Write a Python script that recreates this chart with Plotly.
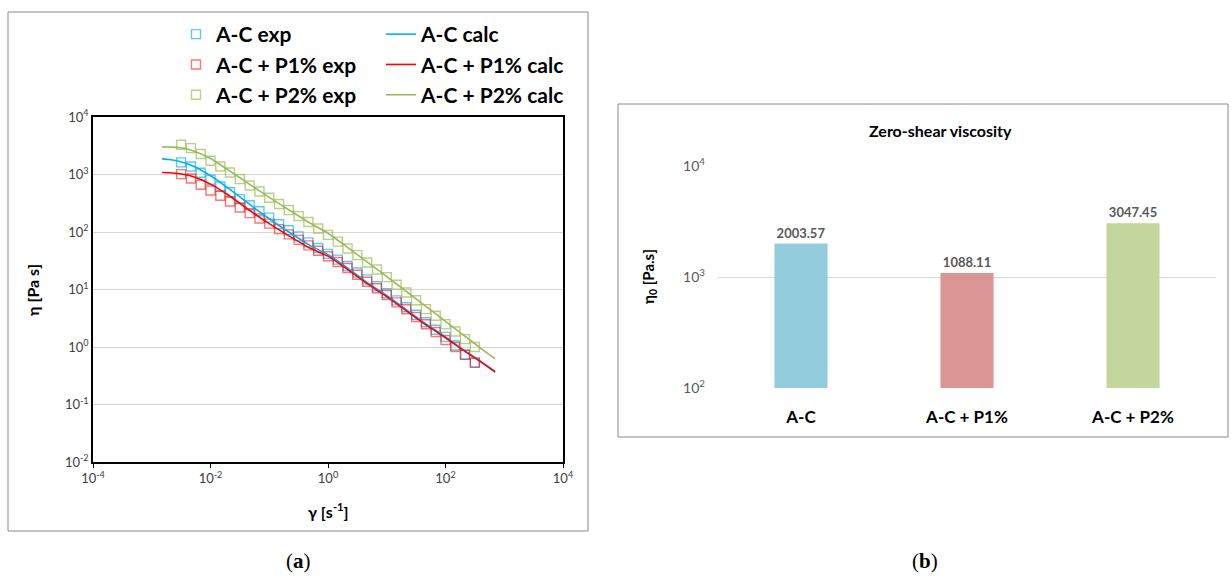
import plotly.graph_objects as go

# ---------------- data ----------------
SHEAR_EXP = [0.00316, 0.00464, 0.00681, 0.0100, 0.0147, 0.0215, 0.0316, 0.0464, 0.0681, 0.100,
             0.147, 0.215, 0.316, 0.464, 0.681, 1.00, 1.47, 2.15, 3.16, 4.64, 6.81, 10.0,
             14.7, 21.5, 31.6, 46.4, 68.1, 100, 147, 215, 316]
AC_EXP = [1622, 1380, 1072, 809, 617, 490, 373, 292, 229, 178, 136, 107, 84, 66, 52.7, 41.7,
          33.1, 25.7, 19.7, 15.0, 11.4, 8.6, 6.46, 4.9, 3.63, 2.69, 2.0, 1.50, 1.06, 0.74, 0.54]
P1_EXP = [1016, 851, 662, 527, 427, 339, 267, 213, 172, 140, 112, 91, 73, 58.6, 47.3, 37.8,
          30.1, 23.6, 18.0, 13.6, 10.5, 8.0, 5.96, 4.53, 3.33, 2.48, 1.82, 1.32, 1.0, 0.73, 0.53]
P2_EXP = [3290, 2880, 2270, 1730, 1380, 1085, 832, 645, 506, 394, 306, 240, 189, 149, 115, 89,
          68, 51.6, 39.6, 29.5, 22.3, 16.4, 12.1, 8.87, 6.49, 4.56, 3.49, 2.50, 1.86, 1.37, 1.0]

SHEAR_CALC = [0.0015, 0.002, 0.003, 0.005, 0.01, 0.02, 0.05, 0.1, 0.2, 0.5, 1, 2, 5, 10, 20,
              50, 100, 200, 400, 700]
AC_CALC = [1870, 1820, 1680, 1400, 950, 580, 285, 170, 105, 58, 40.5, 25, 12.5, 7.9, 4.7,
           2.4, 1.5, 0.9, 0.56, 0.375]
P1_CALC = [1085, 1075, 1030, 920, 680, 440, 225, 140, 90, 52, 38, 23.5, 12.0, 7.5, 4.5,
           2.3, 1.45, 0.88, 0.55, 0.365]
P2_CALC = [3020, 3000, 2950, 2600, 1900, 1200, 640, 400, 255, 142, 95, 57, 28.5, 16.8, 9.8,
           4.8, 2.8, 1.63, 0.95, 0.62]

SAMPLES = ["A-C", "A-C + P1%", "A-C + P2%"]
ETA0 = [2003.57, 1088.11, 3047.45]
ETA0_LABELS = ["2003.57", "1088.11", "3047.45"]

X_TICKS = [1e-4, 1e-2, 1, 1e2, 1e4]
X_TICKTEXT = ["10<sup>-4</sup>", "10<sup>-2</sup>", "10<sup>0</sup>", "10<sup>2</sup>", "10<sup>4</sup>"]
Y_TICKS = [1e-2, 1e-1, 1, 1e1, 1e2, 1e3, 1e4]
Y_TICKTEXT = ["10<sup>-2</sup>", "10<sup>-1</sup>", "10<sup>0</sup>", "10<sup>1</sup>",
              "10<sup>2</sup>", "10<sup>3</sup>", "10<sup>4</sup>"]
Y2_TICKS = [1e2, 1e3, 1e4]
Y2_TICKTEXT = ["10<sup>2</sup>", "10<sup>3</sup>", "10<sup>4</sup>"]

# ---------------- style ----------------
W, H = 1232, 576
FONT = "Lato"
BLUE, RED, GREEN = "#00B0F0", "#FF0000", "#9BBB59"
BAR_COLORS = ["#93CDDD", "#D99694", "#C3D69B"]


def px(x):
    return x / W


def py(y):
    return 1 - y / H


fig = go.Figure()

exp_series = [("A-C exp", AC_EXP, "rgba(0,176,240,0.65)"),
              ("A-C + P1% exp", P1_EXP, "rgba(255,0,0,0.55)"),
              ("A-C + P2% exp", P2_EXP, "rgba(155,187,89,0.7)")]
for name, vals, col in exp_series:
    fig.add_trace(go.Scatter(
        x=SHEAR_EXP, y=vals, mode="markers", name=name, legend="legend",
        marker=dict(symbol="square-open", size=9, color=col, line=dict(width=1.4, color=col)),
        xaxis="x", yaxis="y"))

calc_series = [("A-C calc", AC_CALC, BLUE), ("A-C + P1% calc", P1_CALC, RED),
               ("A-C + P2% calc", P2_CALC, GREEN)]
for name, vals, col in calc_series:
    fig.add_trace(go.Scatter(
        x=SHEAR_CALC, y=vals, mode="lines", name=name, legend="legend2",
        line=dict(color=col, width=1.6, shape="spline", smoothing=0.6),
        xaxis="x", yaxis="y"))

fig.add_trace(go.Bar(
    x=SAMPLES, y=ETA0, marker=dict(color=BAR_COLORS, line=dict(width=0)), width=0.32,
    text=ETA0_LABELS, textposition="outside", cliponaxis=False,
    textfont=dict(family=FONT, size=13, color="#595959", weight="bold"),
    showlegend=False, xaxis="x2", yaxis="y2"))

axis_font = dict(family=FONT, size=13, color="#404040")
legend_font = dict(family=FONT, size=21, color="#000000", weight="bold")


def ann(text, x, y, size, family=FONT, angle=0):
    return dict(text=text, x=px(x), y=py(y), xref="paper", yref="paper",
                xanchor="center", yanchor="middle", textangle=angle, showarrow=False,
                font=dict(family=family, size=size, color="#000000"))


fig.update_layout(
    width=W, height=H,
    margin=dict(l=0, r=0, t=0, b=0, pad=0, autoexpand=False),
    paper_bgcolor="white", plot_bgcolor="white",
    font=dict(family=FONT, color="#000000"),
    xaxis=dict(type="log", domain=[px(93), px(563)], range=[-4, 4], automargin=False,
               tickvals=X_TICKS, ticktext=X_TICKTEXT, tickfont=axis_font,
               showgrid=False, zeroline=False, showline=True, mirror=True,
               linecolor="#000000", linewidth=1.5, ticks="outside", ticklen=4,
               tickcolor="#000000", anchor="y"),
    yaxis=dict(type="log", domain=[py(462), py(117)], range=[-2, 4], automargin=False,
               tickvals=Y_TICKS, ticktext=Y_TICKTEXT, tickfont=axis_font,
               showgrid=True, gridcolor="#D4D4D4", gridwidth=1, zeroline=False,
               showline=True, mirror=True, linecolor="#000000", linewidth=1.5,
               ticks="", anchor="x"),
    xaxis2=dict(domain=[px(718), px(1216)], anchor="y2", showgrid=False, showline=False,
                zeroline=False, ticks="outside", ticklen=14, tickcolor="rgba(0,0,0,0)",
                automargin=False,
                tickvals=SAMPLES, ticktext=["<b>" + s + "</b>" for s in SAMPLES],
                tickfont=dict(family=FONT, size=17, color="#000000")),
    yaxis2=dict(type="log", domain=[py(388), py(166)], range=[2, 4], anchor="x2",
                automargin=False, tickvals=Y2_TICKS, ticktext=Y2_TICKTEXT,
                tickfont=dict(family=FONT, size=14, color="#595959"),
                showgrid=True, gridcolor="#D9D9D9", gridwidth=1, zeroline=False,
                showline=False, ticks="", ticklabelstandoff=12),
    legend=dict(x=px(176), y=py(14), xanchor="left", yanchor="top",
                font=legend_font, bgcolor="rgba(0,0,0,0)", itemwidth=30, traceorder="normal"),
    legend2=dict(x=px(381), y=py(14), xanchor="left", yanchor="top",
                 font=legend_font, bgcolor="rgba(0,0,0,0)", itemwidth=30, traceorder="normal"),
    shapes=[
        dict(type="rect", xref="paper", yref="paper", x0=px(8), x1=px(588), y0=py(531), y1=py(12),
             line=dict(color="#8A8A8A", width=1)),
        dict(type="rect", xref="paper", yref="paper", x0=px(618), x1=px(1228), y0=py(437), y1=py(104),
             line=dict(color="#8A8A8A", width=1)),
    ],
    annotations=[
        ann("<b>η [Pa s]</b>", 32, 290, 16, angle=-90),
        ann("<b>γ [s<sup>-1</sup>]</b>", 328, 510, 16),
        ann("<b>Zero-shear viscosity</b>", 940, 130, 16),
        ann("<b>η<sub>0</sub> [Pa.s]</b>", 649, 277, 15, angle=-90),
        ann("(<b>a</b>)", 298, 561, 21, family="Liberation Serif"),
        ann("(<b>b</b>)", 925, 561, 21, family="Liberation Serif"),
    ],
)

fig.write_html("out.html", config={"displayModeBar": False},
               post_script="document.body.style.margin='0px';")
